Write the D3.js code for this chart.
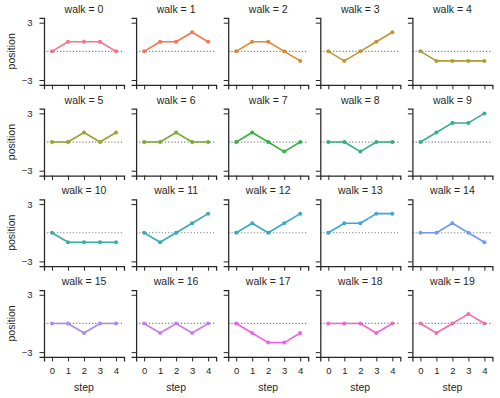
<!DOCTYPE html>
<html>
<head>
<meta charset="utf-8">
<script src="https://cdn.jsdelivr.net/npm/d3@7"></script>
<style>
  body { margin: 0; background: #fff; }
  svg text { font-family: "Liberation Sans", Arial, sans-serif; fill: #262626; }
</style>
</head>
<body>
<div id="chart"></div>
<script>
// Steps along the x axis
const steps = [0, 1, 2, 3, 4];

// Position of each walk at every step
const positions = [
  [0, 1, 1, 1, 0],
  [0, 1, 1, 2, 1],
  [0, 1, 1, 0, -1],
  [0, -1, 0, 1, 2],
  [0, -1, -1, -1, -1],
  [0, 0, 1, 0, 1],
  [0, 0, 1, 0, 0],
  [0, 1, 0, -1, 0],
  [0, 0, -1, 0, 0],
  [0, 1, 2, 2, 3],
  [0, -1, -1, -1, -1],
  [0, -1, 0, 1, 2],
  [0, 1, 0, 1, 2],
  [0, 1, 1, 2, 2],
  [0, 0, 1, 0, -1],
  [0, 0, -1, 0, 0],
  [0, -1, 0, -1, 0],
  [0, -1, -2, -2, -1],
  [0, 0, 0, -1, 0],
  [0, -1, 0, 1, 0]
];

const yTicks = [-3, 3];

// husl palette, one hue per walk
const palette = [
  "#f77189", "#f7754f", "#dc8932", "#c39532", "#ae9d31",
  "#97a431", "#77ab31", "#31b33e", "#33b07a", "#35ae93",
  "#36ada4", "#37abb4", "#38a9c5", "#3aa5df", "#6e9bf4",
  "#a48cf4", "#cc7af4", "#f45cf2", "#f565cc", "#f66bad"
];

const W = 500, H = 398;
const nCols = 5;
const axW = 80, axH = 66.9;
const x0 = 44, y0 = 17.9;
const colStep = 92.1, rowStep = 90.7;
const nRows = Math.ceil(positions.length / nCols);

const svg = d3.select('#chart')
  .append('svg')
  .attr('width', W)
  .attr('height', H);

const x = d3.scaleLinear().domain([-0.5, 4.5]).range([0, axW]);
const y = d3.scaleLinear().domain([-3.5, 3.5]).range([axH, 0]);

const line = d3.line()
  .x((d, i) => x(steps[i]))
  .y(d => y(d));

positions.forEach((walk, i) => {
  const col = i % nCols,
        row = Math.floor(i / nCols);

  const g = svg.append('g')
    .attr('transform', `translate(${x0 + col * colStep},${y0 + row * rowStep})`);

  // Dotted zero line
  g.append('line')
    .attr('x1', 0)
    .attr('x2', axW)
    .attr('y1', y(0))
    .attr('y2', y(0))
    .attr('stroke', '#808080')
    .attr('stroke-width', 1.2)
    .attr('stroke-dasharray', '1.2,2');

  // Walk line with markers
  g.append('path')
    .attr('d', line(walk))
    .attr('fill', 'none')
    .attr('stroke', palette[i])
    .attr('stroke-width', 1.6)
    .attr('stroke-linejoin', 'round');

  g.selectAll('circle')
    .data(walk)
    .enter().append('circle')
    .attr('cx', (d, j) => x(steps[j]))
    .attr('cy', d => y(d))
    .attr('r', 2)
    .attr('fill', palette[i]);

  // Axes
  const xAxis = d3.axisBottom(x)
    .tickValues(steps)
    .tickSize(4.5)
    .tickPadding(5.5)
    .tickFormat(row === nRows - 1 ? d3.format('d') : '');

  const yAxis = d3.axisLeft(y)
    .tickValues(yTicks)
    .tickSize(4.5)
    .tickPadding(7)
    .tickFormat(col === 0 ? d => (d < 0 ? '\u2212' : '') + Math.abs(d) : '');

  const gx = g.append('g')
    .attr('transform', `translate(0,${axH})`)
    .call(xAxis);

  const gy = g.append('g').call(yAxis);

  [gx, gy].forEach(a => {
    a.select('.domain')
      .attr('stroke', '#262626')
      .attr('stroke-width', 1.25);
    a.selectAll('.tick line')
      .attr('stroke', '#262626')
      .attr('stroke-width', 1);
    a.selectAll('.tick text')
      .style('font-size', '9.5px')
      .attr('fill', '#262626');
  });

  // Facet title
  g.append('text')
    .attr('x', axW / 2)
    .attr('y', -5)
    .attr('text-anchor', 'middle')
    .style('font-size', '10.5px')
    .text(`walk = ${i}`);

  if (col === 0) {
    g.append('text')
      .attr('transform', `translate(${11 - x0},${axH / 2}) rotate(-90)`)
      .attr('text-anchor', 'middle')
      .attr('dy', '0.35em')
      .style('font-size', '10.5px')
      .text('position');
  }

  if (row === nRows - 1) {
    g.append('text')
      .attr('x', axW / 2)
      .attr('y', axH + 34)
      .attr('text-anchor', 'middle')
      .style('font-size', '10.5px')
      .text('step');
  }
});
</script>
</body>
</html>
